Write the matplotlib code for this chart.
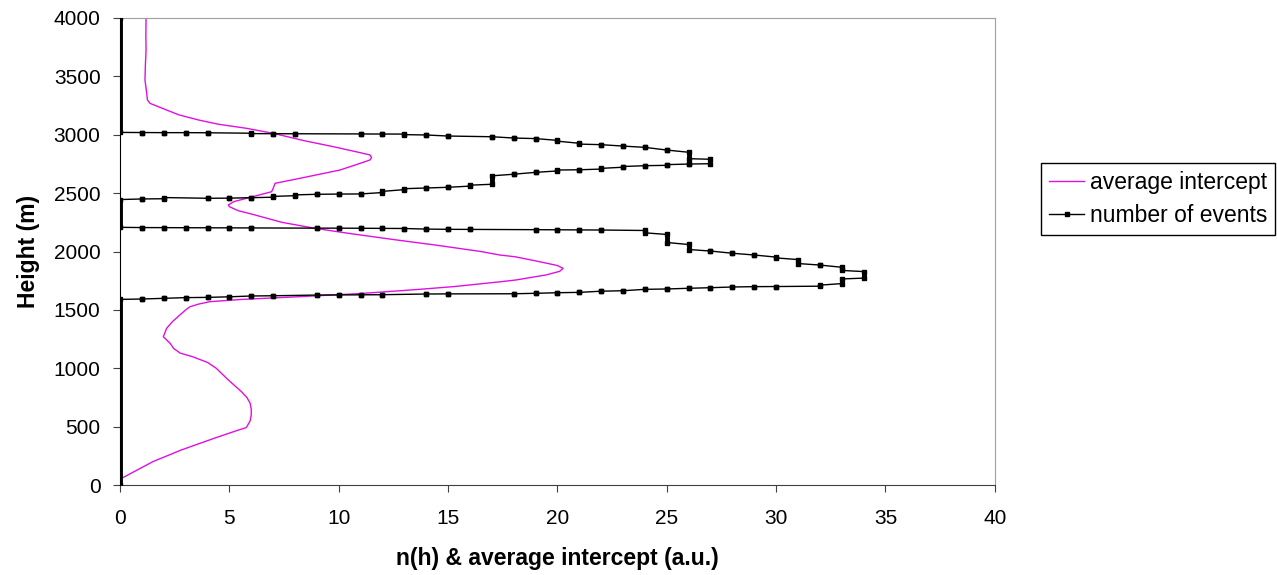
import matplotlib
matplotlib.use("Agg")
from matplotlib import pyplot as plt
from matplotlib.lines import Line2D

plt.rcParams['font.family'] = ['Liberation Sans', 'DejaVu Sans']

# number of events n(h): runs of constant n between two heights (m), ordered by height
events_n = [0, 1, 2, 3, 4, 5, 6, 7, 9, 10, 11, 12, 14, 15, 18, 19, 20, 21, 22, 23,
            24, 25, 26, 27, 28, 29, 30, 32, 33, 34, 33, 32, 31, 30, 29, 28, 27, 26,
            25, 24, 22, 21, 20, 19, 16, 15, 14, 13, 12, 11, 10, 9, 6, 5, 4, 3, 2, 1,
            0, 1, 2, 4, 5, 6, 7, 8, 9, 10, 11, 12, 13, 14, 15, 16, 17, 18, 19, 20,
            21, 22, 23, 24, 25, 26, 27, 26, 25, 24, 23, 22, 21, 20, 19, 18, 17, 15,
            14, 13, 12, 11, 8, 7, 6, 4, 3, 2, 1, 0]
events_h_lo = [0, 1593, 1599, 1605, 1607, 1612, 1619, 1621, 1627, 1628, 1629, 1630,
               1636, 1637, 1638, 1642, 1647, 1650, 1660, 1664, 1676, 1679, 1685, 1690,
               1696, 1699, 1700, 1703, 1725, 1772, 1838, 1884, 1897, 1945, 1970, 1985,
               2004, 2017, 2077, 2160, 2184, 2185, 2186, 2187, 2189, 2190, 2192, 2197,
               2198, 2199, 2200, 2200, 2202, 2203, 2203, 2204, 2204, 2205,
               2207, 2450, 2452, 2456, 2457, 2461, 2465, 2478, 2490, 2492, 2493, 2505,
               2530, 2544, 2550, 2560, 2576, 2662, 2678, 2690, 2700, 2706, 2722, 2735,
               2738, 2749, 2752, 2795, 2869, 2892, 2903, 2915, 2920, 2945, 2967, 2972,
               2983, 2989, 2998, 3001, 3006, 3007, 3008, 3009, 3010, 3017, 3018, 3018,
               3019, 3020]
events_h_hi = [1590, 1593, 1599, 1605, 1607, 1612, 1619, 1621, 1627, 1628, 1629, 1630,
               1636, 1637, 1638, 1642, 1647, 1650, 1660, 1664, 1676, 1679, 1685, 1690,
               1696, 1699, 1700, 1712, 1765, 1828, 1865, 1884, 1931, 1952, 1970, 1985,
               2004, 2060, 2146, 2180, 2184, 2185, 2186, 2187, 2189, 2190, 2192, 2197,
               2198, 2199, 2200, 2200, 2202, 2203, 2203, 2204, 2204, 2205,
               2445, 2450, 2462, 2456, 2457, 2461, 2472, 2485, 2490, 2492, 2493, 2515,
               2538, 2544, 2550, 2568, 2648, 2662, 2678, 2698, 2700, 2712, 2728, 2735,
               2744, 2749, 2790, 2850, 2869, 2892, 2903, 2915, 2927, 2952, 2967, 2972,
               2983, 2989, 2998, 3006, 3006, 3007, 3008, 3009, 3013, 3017, 3018, 3018,
               3019, 4000]

# average intercept (a.u.) versus height (m)
intercept_h = [60, 100, 200, 300, 400, 470, 490, 500, 550, 600, 650, 700, 750, 800,
               850, 900, 1000, 1050, 1100, 1130, 1170, 1214, 1270, 1342, 1400, 1450,
               1500, 1527, 1550, 1570, 1590, 1613, 1640, 1676, 1700, 1741, 1756, 1800,
               1830, 1856, 1880, 1920, 1955, 1970, 2000, 2056, 2100, 2156, 2199, 2250,
               2313, 2350, 2384, 2398, 2427, 2456, 2512, 2540, 2584, 2627, 2698, 2750,
               2784, 2805, 2827, 2850, 2898, 2950, 3012, 3055, 3090, 3126, 3170, 3212,
               3269, 3300, 3355, 3469, 3600, 3726, 3850, 4000]
intercept_x = [0.1, 0.5, 1.5, 2.8, 4.3, 5.4, 5.75, 5.8, 5.95, 6.0, 6.0, 5.95, 5.8, 5.55,
               5.25, 4.95, 4.4, 4.0, 3.3, 2.75, 2.45, 2.29, 1.98, 2.13, 2.4, 2.7,
               3.0, 3.2, 3.6, 4.1, 5.6, 8.2, 11.0, 13.7, 15.3, 17.4, 18.1, 19.5,
               20.1, 20.26, 20.0, 19.0, 18.06, 17.37, 16.5, 14.4, 12.6, 10.44, 8.9, 7.4,
               6.17, 5.4, 5.0, 4.95, 5.2, 5.79, 6.93, 7.0, 7.09, 8.23, 10.06, 10.9,
               11.43, 11.5, 11.43, 10.9, 9.75, 8.4, 7.01, 5.79, 4.5, 3.6, 2.7, 2.13,
               1.37, 1.25, 1.22, 1.14, 1.16, 1.19, 1.18, 1.19]

magenta = '#E010E0'

fig = plt.figure(figsize=(12.77, 5.75), dpi=100)
ax = fig.add_axes([0.094, 0.1565, 0.685, 0.8122])

ax.plot(intercept_x, intercept_h, color=magenta, linewidth=1.0, zorder=2)

# path of n(h) through every run
path_x, path_y = [], []
for n, lo, hi in zip(events_n, events_h_lo, events_h_hi):
    path_x += [n, n]
    path_y += [lo, hi]
ax.plot(path_x, path_y, color='black', linewidth=1.0, marker='s',
        markersize=3.5, zorder=3)

# stacked markers of a run look like a solid bar
for n, lo, hi in zip(events_n, events_h_lo, events_h_hi):
    if hi > lo:
        ax.plot([n, n], [lo, hi], color='black', linewidth=3.5,
                solid_capstyle='projecting', zorder=3)

ax.set_xlim(0, 40)
ax.set_ylim(0, 4000)
ax.set_xticks(range(0, 41, 5))
ax.set_yticks(range(0, 4001, 500))
ax.tick_params(labelsize=15, length=5, direction='out', color='#404040')
ax.tick_params(axis='x', pad=12)
ax.tick_params(axis='y', pad=9)
ax.spines['top'].set_color('#a0a0a0')
ax.spines['right'].set_color('#a0a0a0')
ax.spines['bottom'].set_color('#404040')
ax.spines['left'].set_color('black')

ax.set_xlabel('n(h) & average intercept (a.u.)', fontsize=16.5, fontweight='bold',
              labelpad=14)
ax.set_ylabel('Height (m)', fontsize=16.5, fontweight='bold', labelpad=10)

handles = [Line2D([], [], color=magenta, linewidth=1.0),
           Line2D([], [], color='black', linewidth=1.0, marker='s', markersize=3.5)]
fig.legend(handles, ['average intercept', 'number of events'],
           loc='center', bbox_to_anchor=(0.907, 0.654), fontsize=16.5,
           frameon=True, fancybox=False, edgecolor='black', framealpha=1,
           handlelength=1.5, handletextpad=0.25, borderpad=0.35, labelspacing=0.4)

fig.savefig('out.png', dpi=100)
